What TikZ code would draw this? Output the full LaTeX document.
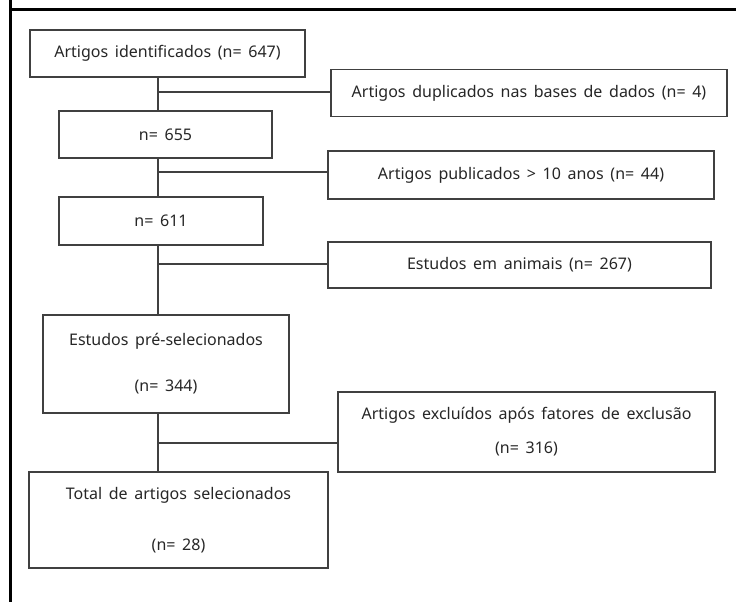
\documentclass[tikz,border=0pt]{standalone}
\usepackage{fontspec}
\setmainfont[WordSpace=1.6]{Noto Sans}
\begin{document}
\begin{tikzpicture}[x=1pt,y=-1pt,
  box/.style={draw=boxgray, line width=1.3pt, inner sep=0pt, align=center,
    font=\fontsize{16}{19}\selectfont, text=black!85},
  conn/.style={draw=boxgray, line width=1.3pt},
  frame/.style={draw=black, line width=2.6pt}]
\definecolor{boxgray}{HTML}{404040}
\useasboundingbox (0,0) rectangle (736,602);
% outer frame (top and left only)
\draw[frame] (10.5,-5) -- (10.5,9.5) -- (740,9.5);
\draw[frame] (10.5,9.5) -- (10.5,610);
% main column
\node[box, minimum width=275pt, minimum height=47pt] (b1) at (167.5,53.5) {Artigos identificados (n= 647)};
\node[box, minimum width=213pt, minimum height=47pt] (b2) at (165.5,134.5) {n= 655};
\node[box, minimum width=204pt, minimum height=48pt] (b3) at (161,221) {n= 611};
\node[box, minimum width=246pt, minimum height=98pt] (b4) at (166,364) {Estudos pré-selecionados\\[27pt](n= 344)};
\node[box, minimum width=299pt, minimum height=96pt] (b5) at (178.5,520) {Total de artigos selecionados\\[32pt](n= 28)};
% exclusion boxes
\node[box, minimum width=396pt, minimum height=47pt] (d1) at (529,93) {Artigos duplicados nas bases de dados (n= 4)};
\node[box, minimum width=386pt, minimum height=48pt] (d2) at (521,175) {Artigos publicados > 10 anos (n= 44)};
\node[box, minimum width=383pt, minimum height=46pt] (d3) at (519.5,265) {Estudos em animais (n= 267)};
\node[box, minimum width=377pt, minimum height=80pt] (d4) at (526.5,432) {Artigos excluídos após fatores de exclusão\\[15pt](n= 316)};
% spine and junctions
\coordinate (sx) at (158,0);
\coordinate (j1) at (158,92);
\coordinate (j2) at (158,172);
\coordinate (j3) at (158,264);
\coordinate (j4) at (158,443);
\draw[conn] (b1.south -| sx) -- (b2.north -| sx);
\draw[conn] (b2.south -| sx) -- (b3.north -| sx);
\draw[conn] (b3.south -| sx) -- (b4.north -| sx);
\draw[conn] (b4.south -| sx) -- (b5.north -| sx);
\draw[conn] (j1) -- (j1 -| d1.west);
\draw[conn] (j2) -- (j2 -| d2.west);
\draw[conn] (j3) -- (j3 -| d3.west);
\draw[conn] (j4) -- (j4 -| d4.west);
\end{tikzpicture}
\end{document}
